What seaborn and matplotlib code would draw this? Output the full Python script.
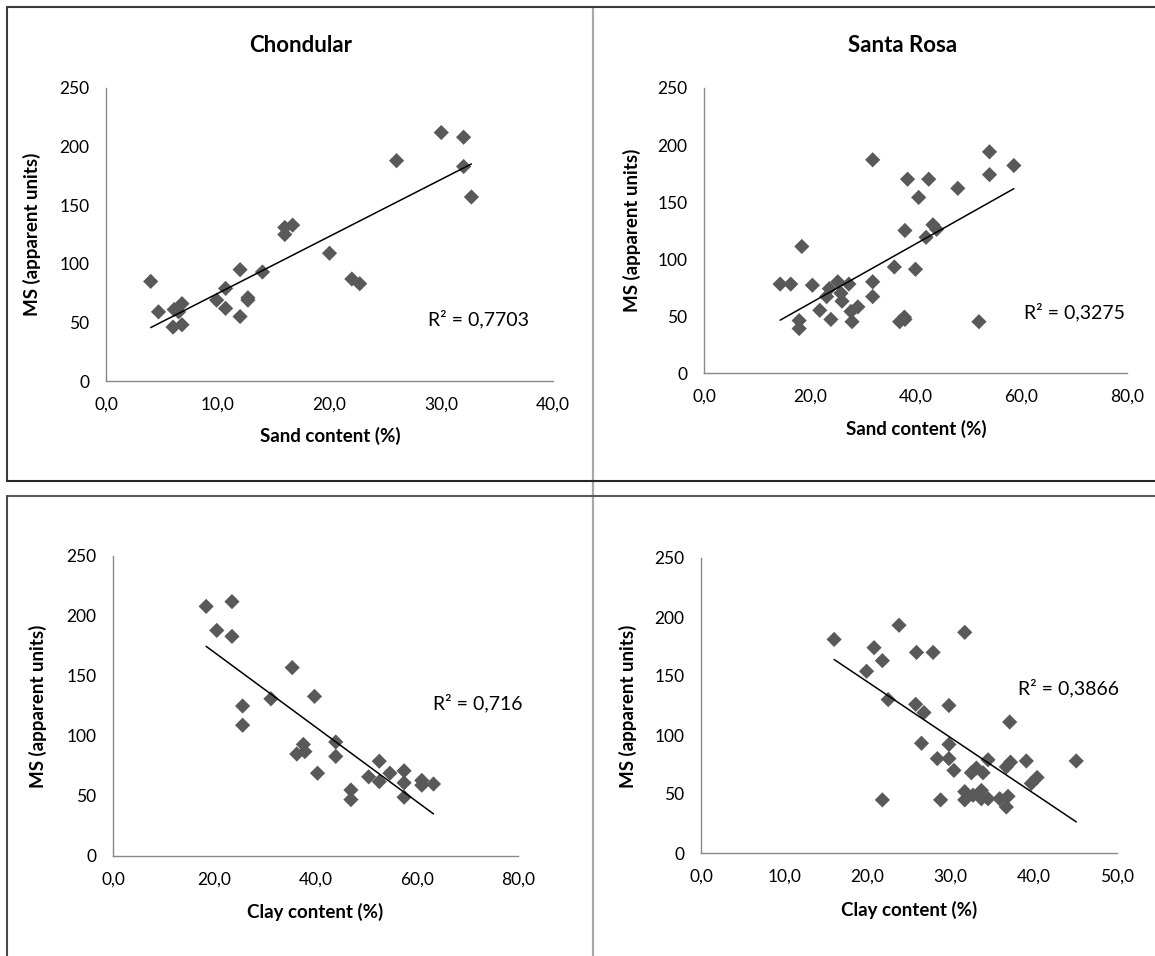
import matplotlib
matplotlib.use("Agg")
import matplotlib.pyplot as plt
import seaborn as sns
import pandas as pd
from matplotlib.lines import Line2D
from matplotlib.ticker import FuncFormatter, MultipleLocator

sns.set_theme(style="white")
plt.rcParams['font.family'] = ['Lato', 'DejaVu Sans']

W, H = 1155, 956

# ---------------- data ----------------
chond_sand = [4.0, 4.7, 6.0, 6.1, 6.5, 6.8, 6.8, 9.9, 10.7, 10.7, 12.0, 12.0, 12.7,
              12.7, 14.0, 16.0, 16.0, 16.7, 20.0, 22.0, 22.7, 26.0, 30.0, 32.0, 32.0, 32.7]
chond_sand_ms = [85, 59, 46, 61, 59, 66, 48, 69, 79, 62, 55, 95, 71,
                 69, 93, 131, 125, 133, 109, 87, 83, 188, 212, 208, 183, 157]

chond_clay = [18.4, 23.5, 20.5, 23.5, 25.6, 25.6, 31.2, 35.4, 39.8, 36.3, 37.6, 37.9, 40.4,
              44.0, 44.0, 47.0, 47.0, 50.5, 52.6, 52.6, 54.7, 57.5, 57.5, 57.5, 61.0, 61.0, 63.3]
chond_clay_ms = [208, 212, 188, 183, 125, 109, 131, 157, 133, 85, 93, 87, 69,
                 95, 83, 55, 47, 66, 79, 62, 69, 71, 61, 49, 63, 59, 60]

sr_sand = [14.4, 16.4, 18.5, 18.0, 18.0, 20.5, 21.9, 23.2, 24.0, 23.7, 25.3, 25.9, 26.1,
           27.4, 27.8, 28.0, 29.1, 31.9, 31.9, 31.9, 36.0, 37.0, 37.9, 38.0, 38.0, 38.5,
           40.0, 40.6, 42.0, 42.5, 43.3, 44.0, 48.0, 52.0, 54.0, 54.0, 58.6]
sr_sand_ms = [78, 78, 111, 46, 39, 77, 55, 67, 47, 74, 80, 70, 63,
              78, 54, 45, 58, 80, 67, 187, 93, 45, 49, 47, 125, 170,
              91, 154, 119, 170, 130, 126, 162, 45, 194, 174, 182]

sr_clay = [16.0, 20.8, 23.8, 21.8, 19.9, 25.9, 27.9, 31.7, 22.5, 25.8, 26.8, 29.8, 37.1,
           26.5, 29.8, 28.4, 29.8, 30.4, 32.5, 33.1, 33.9, 34.5, 36.7, 37.2, 39.1, 39.7,
           40.4, 45.1, 21.8, 28.8, 31.7, 31.7, 32.7, 33.7, 33.7, 34.5, 35.9, 36.7, 36.9]
sr_clay_ms = [181, 174, 193, 163, 154, 170, 170, 187, 130, 126, 119, 125, 111,
              93, 92, 80, 80, 70, 68, 72, 68, 79, 73, 77, 78, 59,
              64, 78, 45, 45, 52, 45, 49, 53, 46, 46, 46, 39, 48]

titles = ["Chondular", "Santa Rosa"]
r2_texts = ["R² = 0,7703", "R² = 0,3275", "R² = 0,716", "R² = 0,3866"]
xlabels = ["Sand content (%)", "Sand content (%)", "Clay content (%)", "Clay content (%)"]
ylabel = "MS (apparent units)"
xmax = [40, 80, 80, 50]
xstep = [10, 20, 20, 10]

panels = [
    pd.DataFrame({"x": chond_sand, "ms": chond_sand_ms}),
    pd.DataFrame({"x": sr_sand, "ms": sr_sand_ms}),
    pd.DataFrame({"x": chond_clay, "ms": chond_clay_ms}),
    pd.DataFrame({"x": sr_clay, "ms": sr_clay_ms}),
]

# ---------------- layout (pixels) ----------------
# (left, right, top, bottom) of the plot areas
boxes = [(106, 553, 88, 381), (704, 1127, 88, 373),
         (113, 518, 556, 856), (701, 1117, 558, 853)]
r2_pos = [(478, 319), (1075, 312), (478, 703), (1068, 688)]
xlab_pos = [(330, 436), (916, 429), (315, 912), (909, 910)]
ylab_pos = [(32, 234), (632, 230), (38, 706), (628, 706)]
title_pos = [(301, 46), (903, 46)]
xtick_pad = [11, 11, 11, 11.5]


def fx(x):
    return x / W


def fy(y):
    return 1 - y / H


fig = plt.figure(figsize=(W / 100, H / 100), dpi=100)
fig.patch.set_facecolor("white")

marker_col = "#595959"
axis_col = "#898989"
comma_fmt = FuncFormatter(lambda v, p: f"{v:.1f}".replace(".", ","))

for i, df in enumerate(panels):
    l, r, t, b = boxes[i]
    ax = fig.add_axes([fx(l), fy(b), (r - l) / W, (b - t) / H])
    sns.regplot(data=df, x="x", y="ms", ax=ax, ci=None, marker="D",
                scatter_kws=dict(s=60, color=marker_col, edgecolor="none", linewidths=0, alpha=1),
                line_kws=dict(color="black", lw=1.1))
    ax.set_xlim(0, xmax[i])
    ax.set_ylim(0, 250)
    ax.xaxis.set_major_locator(MultipleLocator(xstep[i]))
    ax.yaxis.set_major_locator(MultipleLocator(50))
    ax.xaxis.set_major_formatter(comma_fmt)
    ax.set_xlabel("")
    ax.set_ylabel("")
    for s in ["top", "right"]:
        ax.spines[s].set_visible(False)
    for s in ["left", "bottom"]:
        ax.spines[s].set_color(axis_col)
        ax.spines[s].set_linewidth(1.0)
    ax.tick_params(axis="x", length=0, pad=xtick_pad[i], labelsize=12.5, colors="black")
    ax.tick_params(axis="y", length=0, pad=12, labelsize=12.5, colors="black")
    ax.set_facecolor("white")
    ax.grid(False)
    fig.text(fx(r2_pos[i][0]), fy(r2_pos[i][1]), r2_texts[i], ha="center", va="center",
             fontsize=14, color="black")
    fig.text(fx(xlab_pos[i][0]), fy(xlab_pos[i][1]), xlabels[i], ha="center", va="center",
             fontsize=13.5, fontweight="bold", color="black")
    fig.text(fx(ylab_pos[i][0]), fy(ylab_pos[i][1]), ylabel, ha="center", va="center",
             rotation=90, fontsize=13.5, fontweight="bold", color="black")

for j, ttl in enumerate(titles):
    fig.text(fx(title_pos[j][0]), fy(title_pos[j][1]), ttl, ha="center", va="center",
             fontsize=16, fontweight="bold", color="black")

# panel frames


def hline(y, x0, x1, col, lw):
    fig.add_artist(Line2D([fx(x0), fx(x1)], [fy(y), fy(y)], transform=fig.transFigure,
                          color=col, lw=lw))


def vline(x, y0, y1, col, lw):
    fig.add_artist(Line2D([fx(x), fx(x)], [fy(y0), fy(y1)], transform=fig.transFigure,
                          color=col, lw=lw))


vline(593, 7, 956, "#a8a8a8", 1.6)
hline(7, 7, 1155, "#3c3c3c", 1.5)
vline(7, 7, 481, "#3c3c3c", 1.5)
hline(481, 7, 1155, "#262626", 1.5)
hline(495.5, 7, 1155, "#5a5a5a", 1.5)
vline(7, 495.5, 956, "#4a4a4a", 1.5)

fig.savefig("out.png", dpi=100, facecolor="white")
